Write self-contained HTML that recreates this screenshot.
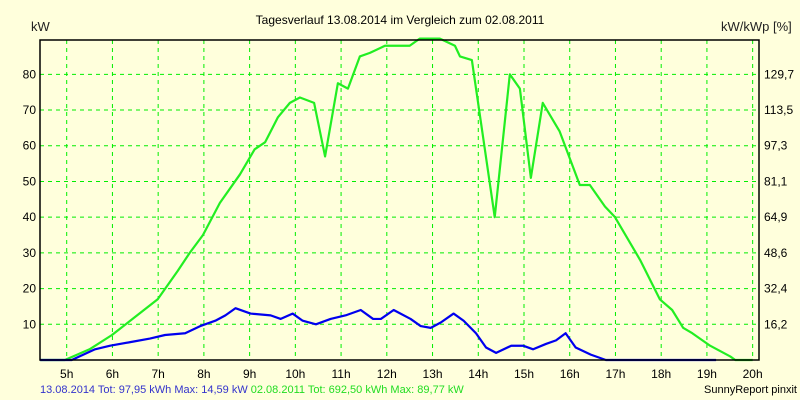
<!DOCTYPE html>
<html><head><meta charset="utf-8"><style>
body{margin:0;background:#ffffdc}
svg{display:block;font-family:"Liberation Sans",sans-serif}
</style></head><body>
<svg width="800" height="400">
<rect width="800" height="400" fill="#ffffdc"/>
<text x="400" y="24" font-size="12" text-anchor="middle">Tagesverlauf 13.08.2014 im Vergleich zum 02.08.2011</text>
<text x="31" y="31" font-size="13" fill="#222">kW</text>
<text x="721" y="31" font-size="13" fill="#222">kW/kWp [%]</text>
<g id="grid"></g><g id="series"></g><g id="labels"></g>
<rect x="40" y="40" width="719" height="320" fill="none" stroke="#000" stroke-width="1.5"/>
<text x="40" y="393" font-size="11"><tspan fill="#3333cc">13.08.2014 Tot: 97,95 kWh Max: 14,59 kW </tspan><tspan fill="#22dd22">02.08.2011 Tot: 692,50 kWh Max: 89,77 kW</tspan></text>
<text x="797" y="393" font-size="11" text-anchor="end">SunnyReport pinxit</text>
</svg>
<script>
const hourTicks=[5,6,7,8,9,10,11,12,13,14,15,16,17,18,19,20];
const leftTicks=[10,20,30,40,50,60,70,80];
const rightTickLabels=["16,2","32,4","48,6","64,9","81,1","97,3","113,5","129,7"];
const greenX=[4.42,4.96,5.5,5.99,6.49,6.99,7.43,7.69,7.98,8.35,8.79,9.11,9.34,9.62,9.88,10.1,10.41,10.65,10.93,11.15,11.41,11.63,11.96,12.29,12.5,12.72,13.16,13.49,13.6,13.86,14.36,14.69,14.91,15.15,15.41,15.78,16.22,16.44,16.77,16.99,17.54,17.97,18.24,18.48,18.68,19.07,19.51,19.62,20.0];
const greenY=[0,0,3,7,12,17,25,30,35,44,52,59,61,68,72,73.5,72,57,77.5,76,85,86,88,88,88,90,90,88,85,84,40,80,76,51,72,64,49,49,43,40,28,17,14,9,7.5,4,1,0,0];
const blueX=[4.42,5.11,5.62,5.95,6.39,6.82,7.15,7.59,7.92,8.25,8.47,8.69,9.02,9.46,9.68,9.94,10.16,10.45,10.77,11.1,11.43,11.7,11.87,12.15,12.52,12.74,12.96,13.18,13.46,13.68,13.95,14.17,14.39,14.72,14.98,15.2,15.48,15.7,15.91,16.13,16.46,16.79,17.12,19.2];
const blueY=[0,0,3,4,5,6,7,7.5,9.5,11,12.5,14.5,13,12.5,11.5,13,11,10,11.5,12.5,14,11.5,11.5,14,11.5,9.5,9,10.5,13,11,7.5,3.5,2,4,4,3,4.5,5.5,7.5,3.5,1.5,0,0,0];
const xs=h=>66.7+(h-5)*45.73, ys=v=>360-v*3.571;
const NS="http://www.w3.org/2000/svg";
const grid=document.getElementById('grid'),labels=document.getElementById('labels'),series=document.getElementById('series');
function mk(tag,attrs,parent,txt){const e=document.createElementNS(NS,tag);for(const k in attrs)e.setAttribute(k,attrs[k]);if(txt!=null)e.textContent=txt;parent.appendChild(e);return e;}
hourTicks.forEach(h=>{
 const l=mk('line',{x1:xs(h),x2:xs(h),y1:40,y2:360,stroke:'#00ee00','stroke-dasharray':'4,4'},grid);
 
 
 const t=mk('text',{x:xs(h),y:378,'font-size':12,'text-anchor':'middle'},labels,h+'h');
 
 
});
leftTicks.forEach((v,i)=>{
 const l=mk('line',{x1:40,x2:759,y1:ys(v),y2:ys(v),stroke:'#00ee00','stroke-dasharray':'4,4'},grid);
 
 
 const t=mk('text',{x:36,y:ys(v)+4,'font-size':12,'text-anchor':'end'},labels,String(v));
 
 
 const r=mk('text',{x:764,y:ys(v)+4,'font-size':12},labels,rightTickLabels[i]);
 
 
});
function line(X,Y,col,name){
 const p=mk('polyline',{points:X.map((h,i)=>xs(h)+','+ys(Y[i])).join(' '),fill:'none',stroke:col,'stroke-width':2.2,'stroke-linejoin':'round'},series);
 
 
}
line(greenX,greenY,'#22ee22','series-2011-line');
line(blueX,blueY,'#0000ee','series-2014-line');
</script>
</body></html>
